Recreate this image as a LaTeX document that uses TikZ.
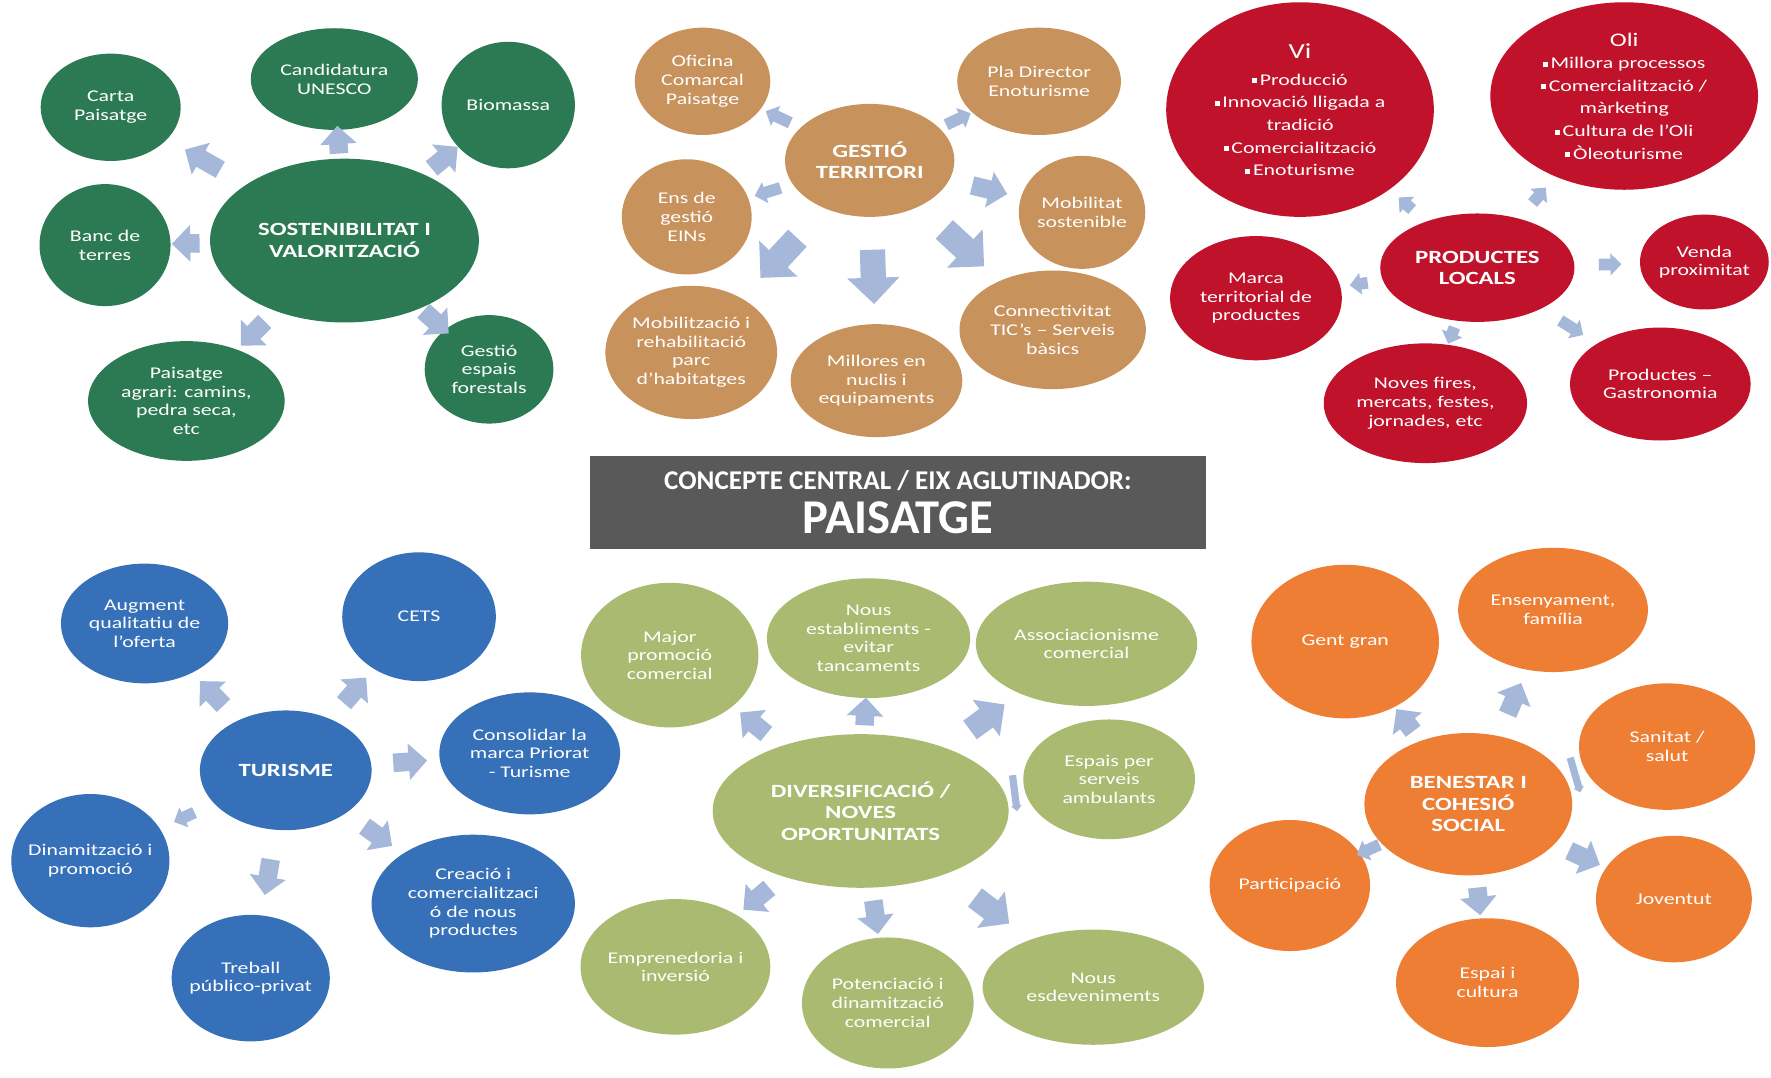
\documentclass[tikz,border=0pt]{standalone}
\usepackage{fontspec}
\setmainfont{Carlito}[FakeStretch=1.33]
\newfontfamily\boxfont{Carlito}
\usetikzlibrary{shapes.geometric,shapes.arrows}
\definecolor{verd}{RGB}{44,122,84}
\definecolor{terra}{RGB}{200,146,92}
\definecolor{vermell}{RGB}{192,18,42}
\definecolor{blau}{RGB}{54,112,184}
\definecolor{oliva}{RGB}{170,186,112}
\definecolor{taronja}{RGB}{238,126,52}
\definecolor{gris}{RGB}{89,89,89}
\definecolor{fletxa}{RGB}{166,184,217}
\newcommand{\bul}{\raisebox{0.25ex}{\rule{0.3em}{0.3em}}\,}
\tikzset{
  bombolla/.style={ellipse, draw=none, inner sep=-14pt, align=center, text=white,
    font=\fontsize{14.5}{16.5}\selectfont},
  eix/.style={bombolla, font=\bfseries\fontsize{16.5}{19}\selectfont},
  llista/.style={bombolla, font=\fontsize{14.5}{20}\selectfont},
  fl/.style={single arrow, draw=none, fill=fletxa, sloped, allow upside down, midway,
    inner sep=8pt, single arrow head extend=8pt, minimum height=30},
  flpetita/.style={fl, inner sep=5pt, single arrow head extend=4.5pt, minimum height=#1},
  flpetita/.default=18,
  flgran/.style={fl, inner sep=11pt, single arrow head extend=12pt, minimum height=48},
  flprim/.style={fl, rotate=-90, inner sep=3pt, single arrow head extend=1.5pt, minimum height=32}
}
\begin{document}
\begin{tikzpicture}[x=1pt,y=-1pt]
\useasboundingbox (0,0) rectangle (1568,954);
\fill[white] (0,0) rectangle (1568,954);

\node[bombolla, fill=verd, minimum width=124, minimum height=95] (carta) at (98,95) {Carta\\Paisatge};
\node[bombolla, fill=verd, minimum width=148, minimum height=90] (unesco) at (296,70) {Candidatura\\UNESCO};
\node[bombolla, fill=verd, minimum width=118, minimum height=112] (biomassa) at (450,93) {Biomassa};
\node[eix, fill=verd, minimum width=238, minimum height=145] (sost) at (305,213) {SOSTENIBILITAT I\\VALORITZACIÓ};
\node[bombolla, fill=verd, minimum width=116, minimum height=108] (banc) at (93,217) {Banc de\\terres};
\node[bombolla, fill=verd, minimum width=174, minimum height=106] (agrari) at (165,355) {Paisatge\\agrari: camins,\\pedra seca,\\etc};
\node[bombolla, fill=verd, minimum width=114, minimum height=96] (forestals) at (433,327) {Gestió\\espais\\forestals};
\path (sost) -- node[fl, minimum height=36] {} (carta);
\path (sost) -- node[fl, minimum height=20] {} (unesco);
\path (sost) -- node[fl] {} (biomassa);
\path (sost) -- node[fl, minimum height=22] {} (banc);
\path (sost) -- node[fl] {} (agrari);
\path (sost) -- node[fl] {} (forestals);

\node[bombolla, fill=terra, minimum width=120, minimum height=95] (oficina) at (622,72) {Oficina\\Comarcal\\Paisatge};
\node[bombolla, fill=terra, minimum width=145, minimum height=95] (pladir) at (920,72) {Pla Director\\Enoturisme};
\node[eix, fill=terra, minimum width=150, minimum height=100] (gestio) at (770,142) {GESTIÓ\\TERRITORI};
\node[bombolla, fill=terra, minimum width=115, minimum height=102] (ens) at (608,192) {Ens de\\gestió\\EINs};
\node[bombolla, fill=terra, minimum width=112, minimum height=100] (mobilitat) at (958,188) {Mobilitat\\sostenible};
\node[bombolla, fill=terra, minimum width=152, minimum height=118] (habitatges) at (612,312) {Mobilització i\\rehabilitació\\parc\\d'habitatges};
\node[bombolla, fill=terra, minimum width=152, minimum height=100] (nuclis) at (776,337) {Millores en\\nuclis i\\equipaments};
\node[bombolla, fill=terra, minimum width=165, minimum height=105] (tic) at (932,292) {Connectivitat\\TIC's – Serveis\\bàsics};
\path (gestio) -- node[flpetita=24] {} (oficina);
\path (gestio) -- node[flpetita=24] {} (pladir);
\path (gestio) -- node[flpetita=24] {} (ens);
\path (gestio) -- node[fl, minimum height=32] {} (mobilitat);
\path (gestio) -- node[flgran] {} (habitatges);
\path (gestio) -- node[flgran] {} (nuclis);
\path (gestio) -- node[flgran] {} (tic);

\node[llista, fill=vermell, minimum width=237, minimum height=190] (vi) at (1151,97) {{\fontsize{19}{22}\selectfont Vi}\\[4pt]\bul Producció\\\bul Innovació lligada a\\tradició\\\bul Comercialització\\\bul Enoturisme};
\node[llista, fill=vermell, minimum width=237, minimum height=166] (oli) at (1438,85) {{\fontsize{17}{20}\selectfont Oli}\\\bul Millora processos\\\bul Comercialització /\\màrketing\\\bul Cultura de l'Oli\\\bul Òleoturisme};
\node[eix, fill=vermell, minimum width=172, minimum height=96] (prod) at (1308,237) {PRODUCTES\\LOCALS};
\node[bombolla, fill=vermell, minimum width=152, minimum height=110] (marca) at (1112,264) {Marca\\territorial de\\productes};
\node[bombolla, fill=vermell, minimum width=114, minimum height=84] (venda) at (1509,232) {Venda\\proximitat};
\node[bombolla, fill=vermell, minimum width=180, minimum height=106] (fires) at (1262,357) {Noves fires,\\mercats, festes,\\jornades, etc};
\node[bombolla, fill=vermell, minimum width=160, minimum height=100] (gastro) at (1470,340) {Productes –\\Gastronomia};
\path (prod) -- node[flpetita=16] {} (vi);
\path (prod) -- node[flpetita] {} (oli);
\path (prod) -- node[flpetita=20] {} (venda);
\path (prod) -- node[flpetita=16] {} (marca);
\path (prod) -- node[flpetita=14] {} (fires);
\path (prod) -- node[flpetita=24] {} (gastro);

\node[fill=gris, minimum width=545, minimum height=83, inner sep=0pt, align=center, text=white,
  font=\boxfont\bfseries\fontsize{43}{39}\selectfont] (paisatge) at (795,445)
  {{\fontsize{24}{26}\selectfont CONCEPTE CENTRAL / EIX AGLUTINADOR:}\\PAISATGE};

\node[bombolla, fill=blau, minimum width=148, minimum height=106] (augment) at (128,552) {Augment\\qualitatiu de\\l'oferta};
\node[bombolla, fill=blau, minimum width=136, minimum height=114] (cets) at (371,546) {CETS};
\node[eix, fill=blau, minimum width=152, minimum height=106] (turisme) at (253,682) {TURISME};
\node[bombolla, fill=blau, minimum width=160, minimum height=108] (priorat) at (469,667) {Consolidar la\\marca Priorat\\- Turisme};
\node[bombolla, fill=blau, minimum width=140, minimum height=118] (dinam) at (80,762) {Dinamització i\\promoció};
\node[bombolla, fill=blau, minimum width=140, minimum height=112] (treball) at (222,866) {Treball\\público-privat};
\node[bombolla, fill=blau, minimum width=180, minimum height=122] (creacio) at (419,800) {Creació i\\comercialitzaci\\ó de nous\\productes};
\path (turisme) -- node[fl] {} (augment);
\path (turisme) -- node[fl] {} (cets);
\path (turisme) -- node[fl] {} (priorat);
\path (turisme) -- node[flpetita=20] {} (dinam);
\path (turisme) -- node[fl, minimum height=32] {} (treball);
\path (turisme) -- node[fl] {} (creacio);

\node[bombolla, fill=oliva, minimum width=157, minimum height=128] (major) at (593,580) {Major\\promoció\\comercial};
\node[bombolla, fill=oliva, minimum width=180, minimum height=106] (establ) at (769,565) {Nous\\establiments -\\evitar\\tancaments};
\node[bombolla, fill=oliva, minimum width=196, minimum height=110] (assoc) at (962,570) {Associacionisme\\comercial};
\node[eix, fill=oliva, minimum width=262, minimum height=136] (divers) at (762,718) {DIVERSIFICACIÓ /\\NOVES\\OPORTUNITATS};
\node[bombolla, fill=oliva, minimum width=152, minimum height=106] (espais) at (982,690) {Espais per\\serveis\\ambulants};
\node[bombolla, fill=oliva, minimum width=168, minimum height=120] (empren) at (598,856) {Emprenedoria i\\inversió};
\node[bombolla, fill=oliva, minimum width=152, minimum height=116] (potenc) at (786,888) {Potenciació i\\dinamització\\comercial};
\node[bombolla, fill=oliva, minimum width=196, minimum height=102] (esdev) at (968,874) {Nous\\esdeveniments};
\path (divers) -- node[fl] {} (major);
\path (divers) -- node[fl, minimum height=20] {} (establ);
\path (divers) -- node[fl, inner sep=10pt, single arrow head extend=10pt, minimum height=38] {} (assoc);
\path (divers) -- node[flprim] {} (espais);
\path (divers) -- node[fl] {} (empren);
\path (divers) -- node[fl] {} (potenc);
\path (divers) -- node[fl, inner sep=10pt, single arrow head extend=10pt, minimum height=38] {} (esdev);

\node[bombolla, fill=taronja, minimum width=166, minimum height=136] (gent) at (1191,568) {Gent gran};
\node[bombolla, fill=taronja, minimum width=168, minimum height=110] (ensenya) at (1375,540) {Ensenyament,\\família};
\node[bombolla, fill=taronja, minimum width=156, minimum height=112] (sanitat) at (1476,661) {Sanitat /\\salut};
\node[eix, fill=taronja, minimum width=184, minimum height=126] (benestar) at (1300,712) {BENESTAR I\\COHESIÓ\\SOCIAL};
\node[bombolla, fill=taronja, minimum width=142, minimum height=116] (particip) at (1142,784) {Participació};
\node[bombolla, fill=taronja, minimum width=138, minimum height=112] (joventut) at (1482,796) {Joventut};
\node[bombolla, fill=taronja, minimum width=162, minimum height=114] (espai) at (1317,870) {Espai i\\cultura};
\path (benestar) -- node[fl, minimum height=24] {} (gent);
\path (benestar) -- node[fl] {} (ensenya);
\path (benestar) -- node[flprim] {} (sanitat);
\path (benestar) -- node[flpetita=22] {} (particip);
\path (benestar) -- node[fl] {} (joventut);
\path (benestar) -- node[fl, minimum height=22] {} (espai);
\end{tikzpicture}
\end{document}
